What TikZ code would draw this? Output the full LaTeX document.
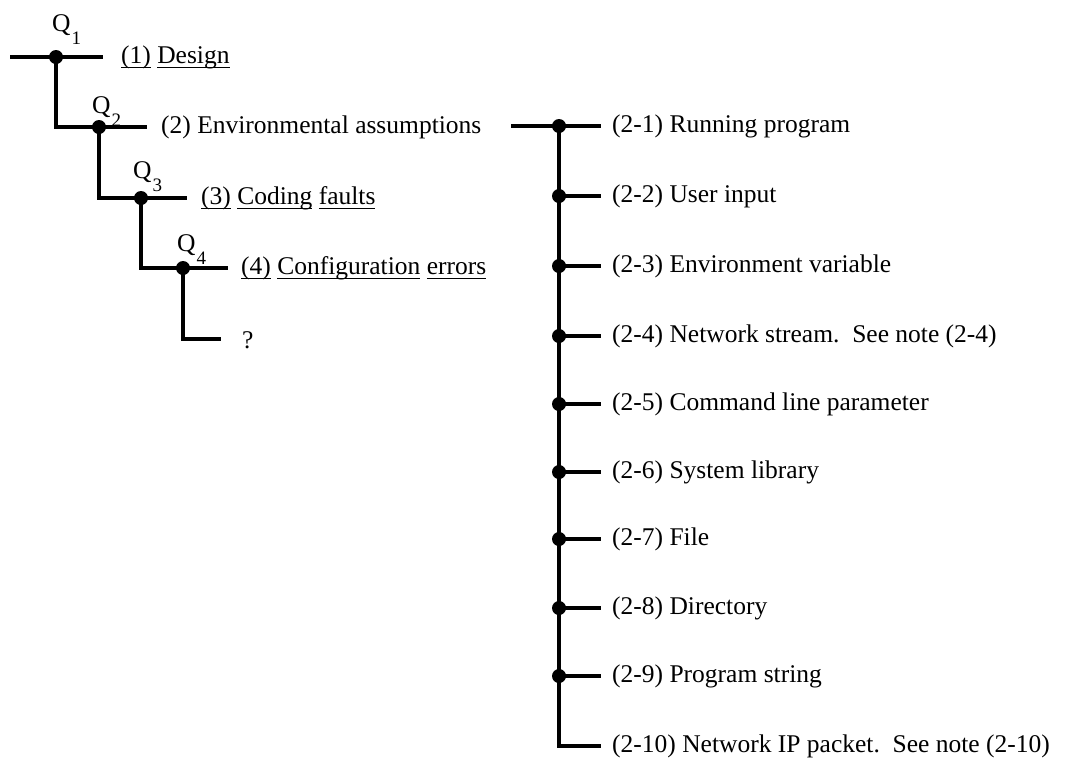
\documentclass[tikz,border=0pt]{standalone}
\usepackage{fontspec}
\setmainfont{Liberation Serif}
\newcommand{\myul}[1]{\setbox0\hbox{#1}\rlap{\rule[-5pt]{\wd0}{1.1pt}}\box0\relax}
\newcommand{\qlab}[1]{Q\kern1pt\raisebox{-13pt}{\fontsize{19}{19}\selectfont #1}}
\begin{document}
\begin{tikzpicture}[x=1pt,y=-1pt,
  wire/.style={line width=3.2pt},
  dotn/.style={circle,fill=black,inner sep=0pt,minimum size=14pt},
  lbl/.style={anchor=base west,inner sep=0pt,font=\fontsize{25.5}{30}\selectfont},
  qlbl/.style={anchor=base west,inner sep=0pt,font=\fontsize{25.5}{30}\selectfont}]
\useasboundingbox (0,0) rectangle (1065,764);
% left tree
\coordinate (s1) at (10,57);
\coordinate (e1) at (103,57);
\node[dotn] (d1) at (56,57) {};
\coordinate (k2) at (56,127);
\coordinate (e2) at (147,127);
\node[dotn] (d2) at (99,127) {};
\coordinate (k3) at (99,198);
\coordinate (e3) at (187,198);
\node[dotn] (d3) at (141,198) {};
\coordinate (k4) at (141,268);
\coordinate (e4) at (228,268);
\node[dotn] (d4) at (183,268) {};
\coordinate (k5) at (183,339);
\coordinate (e5) at (221,339);
\draw[wire] (s1) -- (e1);
\draw[wire] (d1.center) -- (k2) -- (e2);
\draw[wire] (d2.center) -- (k3) -- (e3);
\draw[wire] (d3.center) -- (k4) -- (e4);
\draw[wire] (d4.center) -- (k5) -- (e5);
\node[qlbl] (q1) at (52,31) {\qlab{1}};
\node[qlbl] (q2) at (92,113) {\qlab{2}};
\node[qlbl] (q3) at (133,178) {\qlab{3}};
\node[qlbl] (q4) at (177,251) {\qlab{4}};
\node[lbl] (t1) at (121,63) {\myul{(1)} \myul{Design}};
\node[lbl] (t2) at (161,133) {(2) Environmental assumptions};
\node[lbl] (t3) at (201,204) {\myul{(3)} \myul{Coding} \myul{faults}};
\node[lbl] (t4) at (241,274) {\myul{(4)} \myul{Configuration} \myul{errors}};
\node[lbl] (t5) at (242,348) {?};
% right tree
\coordinate (rs) at (511,126);
\coordinate (rk) at (559,746);
\coordinate (c10) at (601,746);
\foreach \i/\y in {1/126,2/196,3/266,4/336,5/404,6/472,7/539,8/608,9/676}{
  \node[dotn] (r\i) at (559,\y) {};
  \coordinate (c\i) at (601,\y);
}
\draw[wire] (rs) -- (c1);
\draw[wire] (r1.center) -- (rk) -- (c10);
\foreach \i in {2,...,9}{\draw[wire] (r\i.center) -- (c\i);}
\node[lbl] (u1) at (612,132) {(2-1) Running program};
\node[lbl] (u2) at (612,202) {(2-2) User input};
\node[lbl] (u3) at (612,272) {(2-3) Environment variable};
\node[lbl] (u4) at (612,342) {(2-4) Network stream.\ \ See note (2-4)};
\node[lbl] (u5) at (612,410) {(2-5) Command line parameter};
\node[lbl] (u6) at (612,478) {(2-6) System library};
\node[lbl] (u7) at (612,545) {(2-7) File};
\node[lbl] (u8) at (612,614) {(2-8) Directory};
\node[lbl] (u9) at (612,682) {(2-9) Program string};
\node[lbl] (u10) at (612,752) {(2-10) Network IP packet.\ \ See note (2-10)};
\end{tikzpicture}
\end{document}
